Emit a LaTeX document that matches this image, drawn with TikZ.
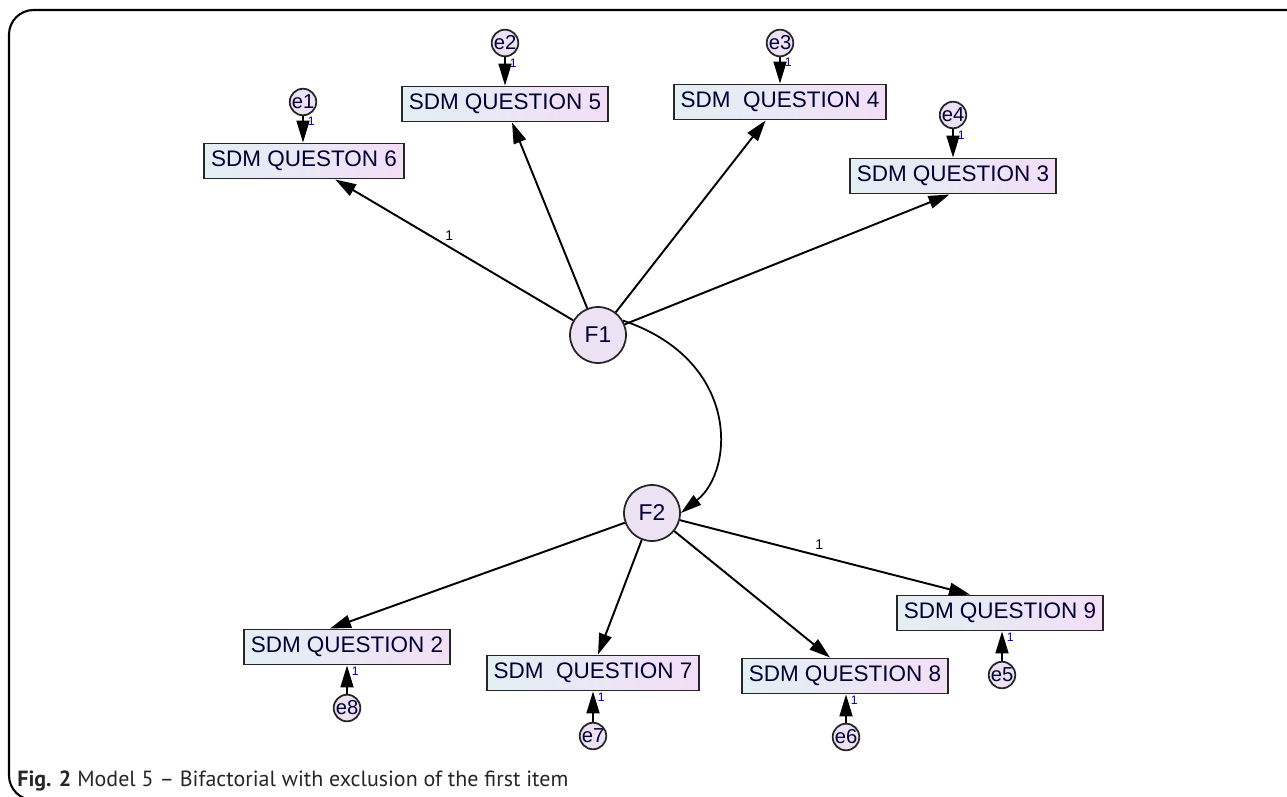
\documentclass[tikz,border=0pt]{standalone}
\usepackage{fontspec}
\setmainfont{Liberation Sans}
\newfontfamily\capfont[Ligatures=TeX]{PT Sans}
\usetikzlibrary{arrows.meta}

\definecolor{boxleft}{RGB}{226,240,244}
\definecolor{boxright}{RGB}{243,222,246}
\definecolor{circfill}{RGB}{236,226,244}

\tikzset{
  obs/.style={draw=black!85, line width=1.1pt, left color=boxleft, right color=boxright,
    font=\fontsize{12.8}{14}\selectfont, text=black!80!blue, minimum height=0.7cm, inner xsep=4pt},
  latent/.style={circle, draw=black!85, line width=1pt, fill=circfill, minimum size=1.12cm,
    inner sep=0pt, font=\fontsize{13}{15}\selectfont, text=black!80!blue},
  err/.style={circle, draw=black!85, line width=1pt, fill=circfill, minimum size=0.5cm,
    inner sep=0pt, font=\fontsize{11.5}{12}\selectfont, text=black!80!blue},
  path/.style={line width=1.1pt, -{Triangle[length=0.42cm, width=0.26cm]}},
  errpath/.style={line width=1pt, -{Triangle[length=0.44cm, width=0.26cm]}},
  one/.style={font=\fontsize{7}{8}\selectfont, text=blue!60!black}
}

\begin{document}
\begin{tikzpicture}[x=0.02cm, y=-0.02cm]
  \useasboundingbox (0,0) rectangle (1287,797);

  % Frame of the figure panel
  \draw[line width=1.2pt, rounded corners=14pt] (1290,10) -- (9,10) -- (9,800) -- (40,800);

  % Factors
  \node[latent] (F1) at (598,335) {F1};
  \node[latent] (F2) at (652,513) {F2};

  % Observed items
  \foreach \n/\x/\y/\t in {q6/304/161/SDM QUESTON 6, q5/505/104/SDM QUESTION 5,
      q4/780/102/SDM\ \ QUESTION 4, q3/953/176/SDM QUESTION 3,
      q2/347/647/SDM QUESTION 2, q7/593/673/SDM\ \ QUESTION 7,
      q8/845/676/SDM QUESTION 8, q9/1000/613/SDM QUESTION 9} {
    \node[obs] (\n) at (\x,\y) {\t};
  }

  % Error terms
  \foreach \n/\x/\y in {e1/303/102, e2/505/43, e3/780/43, e4/953/115,
      e8/347/708, e7/593/736, e6/846/737, e5/1002/675} {
    \node[err] (\n) at (\x,\y) {\n};
  }

  % Loadings on F1
  \draw[path] (F1) -- (q6) node[pos=0.52, above, one, font=\fontsize{8}{9}\selectfont, text=black] {1};
  \draw[path] (F1) -- ([xshift=4pt]q5.south);
  \draw[path] (F1) -- (q4);
  \draw[path] (F1) -- ([xshift=-2pt]q3.south);

  % Loadings on F2
  \draw[path] (F2) -- ([xshift=-0.34cm]q2.north);
  \draw[path] (F2) -- ([xshift=0.1cm]q7.north);
  \draw[path] (F2) -- ([xshift=-0.3cm]q8.north);
  \draw[path] (F2) -- ([xshift=-0.6cm]q9.north) node[pos=0.48, above, one, font=\fontsize{8}{9}\selectfont, text=black] {1};

  % Covariance F1 -- F2
  \draw[line width=1pt, -{Triangle[length=0.42cm, width=0.24cm]}]
    (F1.30) .. controls (740,360) and (735,470) .. (F2.east);

  % Error paths with fixed weight 1
  \foreach \e/\q in {e1/q6, e2/q5, e3/q4, e4/q3} {
    \draw[errpath] (\e) -- (\e |- \q.north) node[pos=0.2, right=-1pt, one] {1};
  }
  \foreach \e/\q in {e8/q2, e7/q7, e6/q8, e5/q9} {
    \draw[errpath] (\e) -- (\e |- \q.south) node[pos=0.8, right=-1pt, one] {1};
  }

  % Caption
  \node[anchor=base west, inner sep=0pt, font=\capfont\fontsize{12.5}{14}\selectfont, text=black!85]
    (cap) at (17,786) {\textbf{Fig. 2} Model 5 – Bifactorial with exclusion of the first item};
\end{tikzpicture}
\end{document}
